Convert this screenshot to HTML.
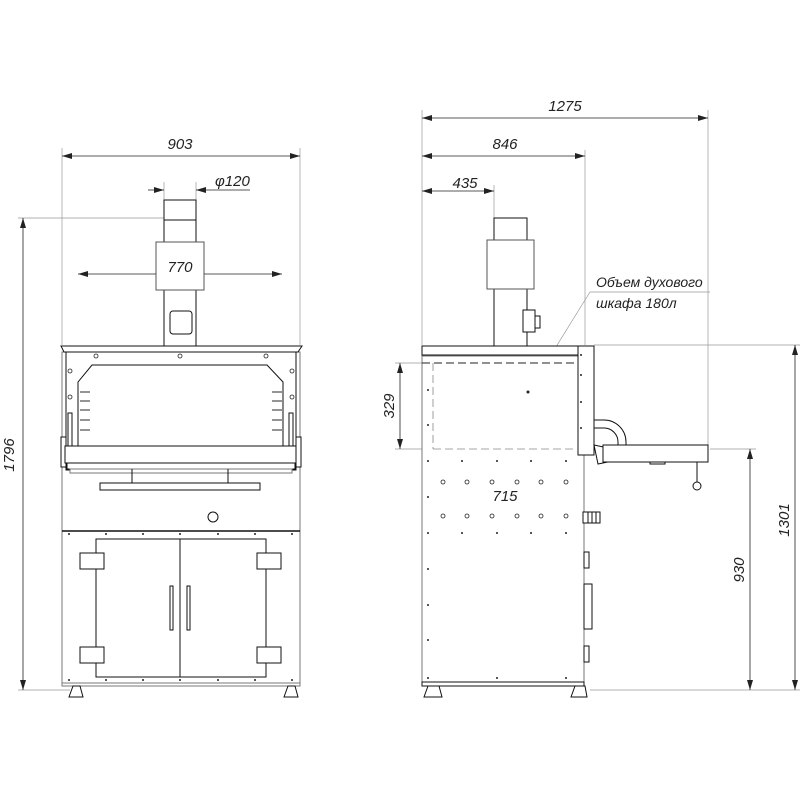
<!DOCTYPE html>
<html><head><meta charset="utf-8"><style>html,body{margin:0;padding:0;background:#fff}svg{display:block}text{font-family:"Liberation Sans",sans-serif;font-style:italic;font-size:15px;fill:#222}</style></head><body>
<svg width="800" height="800" viewBox="0 0 800 800" xmlns="http://www.w3.org/2000/svg">
<defs><marker id="a" viewBox="0 0 10 6" refX="10" refY="3" markerWidth="10" markerHeight="6" orient="auto-start-reverse" markerUnits="userSpaceOnUse"><path d="M0,0L10,3L0,6z" fill="#222"/></marker></defs>
<g stroke="#999" stroke-width="0.7" fill="none">
<line x1="62" y1="148" x2="62" y2="345"/><line x1="300" y1="148" x2="300" y2="345"/>
<line x1="18" y1="218" x2="164" y2="218"/><line x1="18" y1="690" x2="70" y2="690"/>
<line x1="164" y1="182" x2="164" y2="218"/><line x1="196" y1="182" x2="196" y2="218"/>
<line x1="422" y1="110" x2="422" y2="345"/><line x1="708" y1="110" x2="708" y2="445"/>
<line x1="585" y1="150" x2="585" y2="345"/><line x1="494" y1="185" x2="494" y2="218"/>
<line x1="594" y1="345" x2="800" y2="345"/><line x1="710" y1="449" x2="756" y2="449"/>
<line x1="590" y1="690" x2="800" y2="690"/>
<line x1="395" y1="363" x2="433" y2="363"/><line x1="395" y1="449" x2="433" y2="449"/>
<line x1="433" y1="500" x2="433" y2="512"/><line x1="578" y1="500" x2="578" y2="512"/>
<line x1="590" y1="292" x2="710" y2="292"/><line x1="590" y1="292" x2="528" y2="392"/>
</g>
<g stroke="#222" stroke-width="0.8" fill="none">
<line x1="62" y1="156" x2="300" y2="156" marker-start="url(#a)" marker-end="url(#a)"/>
<line x1="148" y1="190" x2="164" y2="190" marker-end="url(#a)"/><line x1="250" y1="190" x2="196" y2="190" marker-end="url(#a)"/>
<line x1="78" y1="274" x2="156" y2="274" marker-start="url(#a)"/><line x1="204" y1="274" x2="282" y2="274" marker-end="url(#a)"/>
<line x1="23" y1="218" x2="23" y2="690" marker-start="url(#a)" marker-end="url(#a)"/>
<line x1="422" y1="118" x2="708" y2="118" marker-start="url(#a)" marker-end="url(#a)"/>
<line x1="422" y1="156" x2="585" y2="156" marker-start="url(#a)" marker-end="url(#a)"/>
<line x1="422" y1="191" x2="494" y2="191" marker-start="url(#a)" marker-end="url(#a)"/>
<line x1="400" y1="363" x2="400" y2="449" marker-start="url(#a)" marker-end="url(#a)"/>
<line x1="433" y1="507" x2="578" y2="507" marker-start="url(#a)" marker-end="url(#a)"/>
<line x1="795" y1="345" x2="795" y2="690" marker-start="url(#a)" marker-end="url(#a)"/>
<line x1="750" y1="449" x2="750" y2="690" marker-start="url(#a)" marker-end="url(#a)"/>
</g>
<g stroke="#111" stroke-width="1" fill="#fff">
<rect x="164" y="200" width="32" height="146"/><line x1="164" y1="220" x2="196" y2="220"/>
<rect x="156" y="242" width="48" height="48" stroke="#555"/>
<rect x="170" y="311" width="22" height="23" rx="3"/>
<rect x="62" y="352" width="238" height="333" stroke="#777"/>
<path d="M61,346H302L298,352H64Z"/>
<path d="M66,352H296V470H66Z" fill="none"/>
<path d="M92,365H267L283,382V447H78V382Z"/>
<g stroke-width="0.9"><line x1="80" y1="392" x2="90" y2="392"/><line x1="80" y1="401" x2="90" y2="401"/><line x1="80" y1="410" x2="90" y2="410"/><line x1="80" y1="420" x2="90" y2="420"/><line x1="80" y1="430" x2="90" y2="430"/>
<line x1="272" y1="392" x2="282" y2="392"/><line x1="272" y1="401" x2="282" y2="401"/><line x1="272" y1="410" x2="282" y2="410"/><line x1="272" y1="420" x2="282" y2="420"/><line x1="272" y1="430" x2="282" y2="430"/></g>
<rect x="68" y="413" width="4" height="35"/><rect x="289" y="413" width="4" height="35"/>
<rect x="61" y="437" width="5" height="30"/><rect x="296" y="437" width="5" height="30"/>
<rect x="65" y="446" width="231" height="17"/>
<rect x="67" y="463" width="228" height="6"/>
<rect x="70" y="469" width="222" height="4" stroke="#777"/>
<line x1="132" y1="469" x2="132" y2="483"/><line x1="228" y1="469" x2="228" y2="483"/>
<rect x="100" y="483" width="160" height="7"/>
<circle cx="213" cy="517" r="5"/>
<line x1="62" y1="531" x2="300" y2="531" stroke-width="1.5"/>
<rect x="96" y="539" width="170" height="138"/><line x1="180" y1="539" x2="180" y2="677"/>
<rect x="80" y="553" width="24" height="16"/><rect x="80" y="647" width="24" height="16"/>
<rect x="257" y="553" width="24" height="16"/><rect x="257" y="647" width="24" height="16"/>
<rect x="170" y="586" width="3" height="44"/><rect x="187" y="586" width="3" height="44"/>
<rect x="62" y="683" width="238" height="3" stroke="#777"/>
<path d="M69,697L73,686H80L83,697Z"/><path d="M284,697L288,686H295L298,697Z"/>
<rect x="494" y="218" width="33" height="128"/>
<rect x="487" y="240" width="47" height="49" stroke="#555"/>
<rect x="523" y="310" width="12" height="22"/><rect x="535" y="316" width="5" height="12"/>
<rect x="422" y="356" width="162" height="327" stroke="#777"/>
<rect x="422" y="346" width="158" height="9"/>
<rect x="578" y="346" width="16" height="109"/>
<path d="M594,420H604A22,22 0 0 1 626,442V448H618V442A14,14 0 0 0 604,428H594Z"/>
<path d="M594,445L608,448V462L598,464Z"/>
<rect x="603" y="445" width="105" height="17"/>
<rect x="650" y="462" width="15" height="2"/>
<line x1="697" y1="462" x2="697" y2="484"/><circle cx="697" cy="486" r="4"/>
<rect x="583" y="512" width="17" height="11"/>
<line x1="588" y1="512" x2="588" y2="523"/><line x1="592" y1="512" x2="592" y2="523"/><line x1="596" y1="512" x2="596" y2="523"/>
<rect x="584" y="552" width="5" height="16"/><rect x="584" y="646" width="5" height="16"/>
<rect x="584" y="584" width="8" height="45"/>
<rect x="422" y="682" width="162" height="4"/>
<path d="M424,697L428,686H439L442,697Z"/><path d="M571,697L575,686H585L587,697Z"/>
</g>
<g stroke="#888" stroke-width="0.8" fill="none" stroke-dasharray="8,4">
<line x1="422" y1="363" x2="578" y2="363" stroke="#222" stroke-width="1"/>
<line x1="433" y1="363" x2="433" y2="449"/><line x1="433" y1="449" x2="578" y2="449"/>
</g>
<g fill="#fff" stroke="#222" stroke-width="0.8">
<circle cx="443" cy="482" r="2"/><circle cx="467" cy="482" r="2"/><circle cx="492" cy="482" r="2"/><circle cx="517" cy="482" r="2"/><circle cx="541" cy="482" r="2"/><circle cx="566" cy="482" r="2"/>
<circle cx="443" cy="516" r="2"/><circle cx="467" cy="516" r="2"/><circle cx="492" cy="516" r="2"/><circle cx="517" cy="516" r="2"/><circle cx="541" cy="516" r="2"/><circle cx="566" cy="516" r="2"/>
<circle cx="96" cy="356" r="2"/><circle cx="180" cy="356" r="2"/><circle cx="266" cy="356" r="2"/><circle cx="70" cy="371" r="2"/><circle cx="292" cy="371" r="2"/><circle cx="70" cy="397" r="2"/><circle cx="292" cy="397" r="2"/>
</g>
<g fill="#222">
<circle cx="528" cy="392" r="1.5"/>
<circle cx="428" cy="390" r="1"/><circle cx="428" cy="425" r="1"/><circle cx="428" cy="461" r="1"/><circle cx="428" cy="497" r="1"/><circle cx="428" cy="533" r="1"/><circle cx="428" cy="569" r="1"/><circle cx="428" cy="605" r="1"/><circle cx="428" cy="640" r="1"/><circle cx="428" cy="678" r="1"/>
<circle cx="462" cy="461" r="1"/><circle cx="497" cy="461" r="1"/><circle cx="531" cy="461" r="1"/><circle cx="566" cy="461" r="1"/>
<circle cx="462" cy="533" r="1"/><circle cx="497" cy="533" r="1"/><circle cx="531" cy="533" r="1"/><circle cx="566" cy="533" r="1"/>
<circle cx="497" cy="678" r="1"/><circle cx="566" cy="678" r="1"/>
<circle cx="581" cy="355" r="1"/><circle cx="581" cy="375" r="1"/><circle cx="581" cy="402" r="1"/><circle cx="581" cy="428" r="1"/>
<circle cx="69" cy="534" r="1"/><circle cx="106" cy="534" r="1"/><circle cx="143" cy="534" r="1"/><circle cx="180" cy="534" r="1"/><circle cx="218" cy="534" r="1"/><circle cx="255" cy="534" r="1"/><circle cx="292" cy="534" r="1"/>
<circle cx="69" cy="680" r="1"/><circle cx="106" cy="680" r="1"/><circle cx="143" cy="680" r="1"/><circle cx="180" cy="680" r="1"/><circle cx="218" cy="680" r="1"/><circle cx="255" cy="680" r="1"/><circle cx="292" cy="680" r="1"/>
</g>
<text x="180" y="149" text-anchor="middle">903</text>
<text x="215" y="186">φ120</text>
<text x="180" y="272" text-anchor="middle">770</text>
<text transform="translate(14,455) rotate(-90)" text-anchor="middle">1796</text>
<text x="565" y="111" text-anchor="middle">1275</text>
<text x="505" y="149" text-anchor="middle">846</text>
<text x="465" y="188" text-anchor="middle">435</text>
<text transform="translate(394,406) rotate(-90)" text-anchor="middle">329</text>
<text x="505" y="501" text-anchor="middle">715</text>
<text transform="translate(789,520) rotate(-90)" text-anchor="middle">1301</text>
<text transform="translate(744,570) rotate(-90)" text-anchor="middle">930</text>
<text x="596" y="287" style="font-size:14px">Объем духового</text>
<text x="596" y="308" style="font-size:14px">шкафа 180л</text>
</svg>
</body></html>
